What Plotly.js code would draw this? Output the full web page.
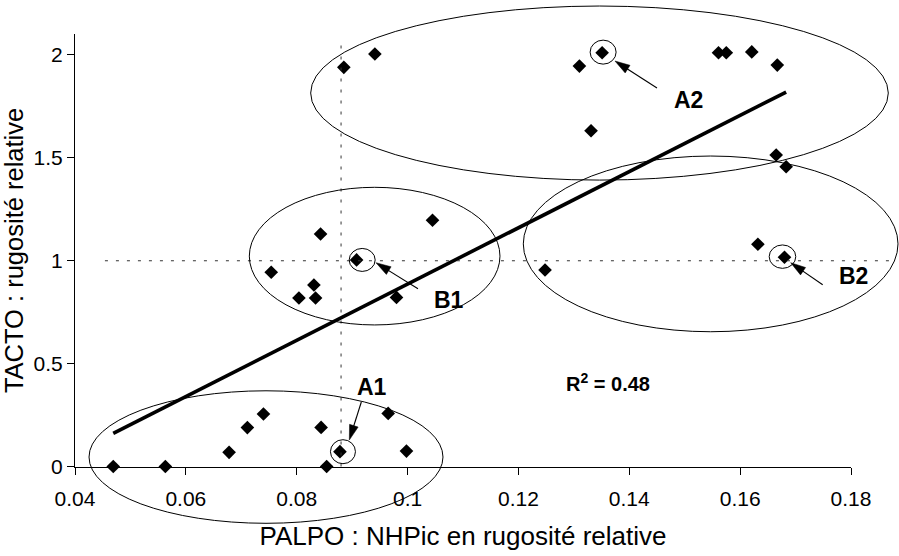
<!DOCTYPE html>
<html><head><meta charset="utf-8">
<script src="https://cdn.plot.ly/plotly-3.0.1.min.js"></script>
<style>html,body{margin:0;padding:0;background:#fff}#chart{width:899px;height:556px}</style>
</head><body><div id="chart"></div>
<script>
// ---- data ----
const palpo = [0.0469, 0.0563, 0.0678, 0.0711, 0.0740, 0.0844, 0.0854, 0.0878, 0.0965, 0.0998,
               0.0843, 0.0754, 0.0831, 0.0804, 0.0834, 0.0908, 0.0980, 0.1045,
               0.0885, 0.0941, 0.1310, 0.1351, 0.1331, 0.1561, 0.1575, 0.1621, 0.1667,
               0.1665, 0.1683, 0.1632, 0.1680, 0.1248];
const tacto = [0, 0, 0.069, 0.189, 0.255, 0.190, 0, 0.072, 0.258, 0.075,
               1.130, 0.944, 0.882, 0.819, 0.819, 1.004, 0.822, 1.197,
               1.940, 2.005, 1.946, 2.011, 1.632, 2.011, 2.011, 2.015, 1.951,
               1.514, 1.457, 1.080, 1.017, 0.955];
const xTickVals = [0.04, 0.06, 0.08, 0.1, 0.12, 0.14, 0.16, 0.18];
const xTickText = ['0.04', '0.06', '0.08', '0.1', '0.12', '0.14', '0.16', '0.18'];
const yTickVals = [0, 0.5, 1, 1.5, 2];
const yTickText = ['0', '0.5', '1', '1.5', '2'];
const groupLabels = ['A1', 'B1', 'A2', 'B2'];
const highlightIndex = [7, 15, 21, 30];     // circled points A1, B1, A2, B2
const refLineX = 0.088;                     // vertical dotted reference
const refLineY = 1;                         // horizontal dotted reference
const r2Label = 'R<sup>2</sup> = 0.48';
const xTitle = 'PALPO : NHPic en rugosité relative';
const yTitle = 'TACTO : rugosité relative';

// ---- linear trend (least squares) ----
const n = palpo.length;
const mx = palpo.reduce((a, b) => a + b, 0) / n;
const my = tacto.reduce((a, b) => a + b, 0) / n;
let sxy = 0, sxx = 0;
for (let i = 0; i < n; i++) { sxy += (palpo[i] - mx) * (tacto[i] - my); sxx += (palpo[i] - mx) ** 2; }
const slope = sxy / sxx, icpt = my - slope * mx;
const trendX = [Math.min(...palpo), Math.max(...palpo)];
const trendY = trendX.map(v => icpt + slope * v);

// ---- axes geometry ----
const xr = [0.04, 0.18], yr = [0, 2.1];                 // visible axes
const xr2 = [0.04, 0.18866], yr2 = [-0.294, 2.2527];   // full drawing area (same scale)
const xd = [(xr[0] - xr2[0]) / (xr2[1] - xr2[0]), (xr[1] - xr2[0]) / (xr2[1] - xr2[0])];
const yd = [(yr[0] - yr2[0]) / (yr2[1] - yr2[0]), (yr[1] - yr2[0]) / (yr2[1] - yr2[0])];

const FONT = 'Liberation Sans, Arial, Helvetica, sans-serif';

// group ellipses [x0, x1, y0, y1]
const groupEllipses = [
  [0.04253, 0.10639, -0.276, 0.368],
  [0.07145, 0.11667, 0.688, 1.357],
  [0.08252, 0.18673, 1.392, 2.238],
  [0.12088, 0.18848, 0.655, 1.509]
];
// highlight circle pixel boxes around circled points [x0,x1,y0,y1]
const circleBoxes = [[-9.5, 15.5, -12, 12], [-7.4, 18.6, -11.5, 11.5], [-12, 14, -11.4, 12.6], [-15.3, 11.3, -11.1, 12.3]];
// arrow heads (data) and tail offsets (screen px, y down)
const arrowHeads = [[0.08949, 0.1288], [0.0943, 0.9905], [0.13742, 1.9708], [0.16912, 0.9905]];
const arrowTails = [[12, -38], [42, 26], [42, 27], [32, 22]];
const labelPos = [[0.09358, 0.3864], [0.10756, 0.8092], [0.15065, 1.7789], [0.1805, 0.9268]];
const HEAD_LEN = 15, HEAD_HALF = 4.5;

const shapes = [];
groupEllipses.forEach(e => shapes.push({type: 'circle', xref: 'x2', yref: 'y2', x0: e[0], x1: e[1], y0: e[2], y1: e[3],
  line: {color: '#000', width: 1}, layer: 'above'}));
highlightIndex.forEach((idx, k) => {
  const b = circleBoxes[k];
  shapes.push({type: 'circle', xref: 'x2', yref: 'y2', xsizemode: 'pixel', ysizemode: 'pixel',
    xanchor: palpo[idx], yanchor: tacto[idx], x0: b[0], x1: b[1], y0: b[2], y1: b[3],
    line: {color: '#000', width: 1}, layer: 'above'});
});
shapes.push({type: 'line', xref: 'x2', yref: 'y2', x0: refLineX, x1: refLineX, y0: 0, y1: 2.075,
  line: {color: '#333', width: 1, dash: '3px,8px'}, layer: 'below'});
shapes.push({type: 'line', xref: 'x2', yref: 'y2', x0: 0.0454, x1: 0.187, y0: refLineY, y1: refLineY,
  line: {color: '#333', width: 1, dash: '3px,8px'}, layer: 'below'});
// arrows: shaft + filled head, in pixels relative to the head point
arrowHeads.forEach((h, k) => {
  const tx = arrowTails[k][0], ty = -arrowTails[k][1];   // y up
  const L = Math.hypot(tx, ty), ux = -tx / L, uy = -ty / L, px = -uy, py = ux;
  const common = {xref: 'x2', yref: 'y2', xsizemode: 'pixel', ysizemode: 'pixel', xanchor: h[0], yanchor: h[1], layer: 'above'};
  shapes.push(Object.assign({type: 'line', x0: tx, y0: ty, x1: -ux * 6, y1: -uy * 6, line: {color: '#000', width: 1.1}}, common));
  const bx = -ux * HEAD_LEN, by = -uy * HEAD_LEN;
  const path = 'M0,0 L' + (bx + px * HEAD_HALF).toFixed(2) + ',' + (by + py * HEAD_HALF).toFixed(2) +
               ' L' + (bx - px * HEAD_HALF).toFixed(2) + ',' + (by - py * HEAD_HALF).toFixed(2) + ' Z';
  shapes.push(Object.assign({type: 'path', path: path, fillcolor: '#000', line: {color: '#000', width: 0.5}}, common));
});

const annotations = [];
groupLabels.forEach((t, k) => {
  annotations.push({xref: 'x2', yref: 'y2', x: labelPos[k][0], y: labelPos[k][1], text: '<b>' + t + '</b>',
    showarrow: false, font: {family: FONT, size: 23, color: '#000'}, xanchor: 'center', yanchor: 'middle'});
});
annotations.push({xref: 'x2', yref: 'y2', x: 0.13621, y: 0.4083, text: '<b>' + r2Label + '</b>', showarrow: false,
  font: {family: FONT, size: 20, color: '#000'}, xanchor: 'center', yanchor: 'middle'});

const traces = [
  {x: palpo, y: tacto, type: 'scatter', mode: 'markers', xaxis: 'x', yaxis: 'y', cliponaxis: false,
   marker: {symbol: 'diamond', size: 10.5, color: '#000'}, showlegend: false, hoverinfo: 'skip'},
  {x: trendX, y: trendY, type: 'scatter', mode: 'lines', xaxis: 'x', yaxis: 'y', cliponaxis: false,
   line: {color: '#000', width: 3.6}, showlegend: false, hoverinfo: 'skip'}
];

const axisCommon = {showline: true, linecolor: '#000', linewidth: 1, ticks: 'outside', ticklen: 7,
  tickcolor: '#000', tickwidth: 1, showgrid: false, zeroline: false, fixedrange: true, automargin: false,
  tickfont: {family: FONT, size: 21, color: '#000'}};
const hiddenAxis = {showline: false, showticklabels: false, ticks: '', showgrid: false, zeroline: false,
  fixedrange: true, automargin: false, domain: [0, 1]};

const layout = {
  width: 899, height: 556,
  margin: {l: 75, r: 0, t: 3, b: 29},
  paper_bgcolor: '#fff', plot_bgcolor: 'rgba(0,0,0,0)',
  font: {family: FONT, color: '#000'},
  showlegend: false,
  xaxis: Object.assign({}, axisCommon, {range: xr, domain: xd, anchor: 'y', tickmode: 'array',
    tickvals: xTickVals, ticktext: xTickText, ticklabelstandoff: 6,
    title: {text: xTitle, font: {family: FONT, size: 26, color: '#000'}, standoff: 18}}),
  yaxis: Object.assign({}, axisCommon, {range: yr, domain: yd, anchor: 'x', tickmode: 'array',
    tickvals: yTickVals, ticktext: yTickText,
    title: {text: yTitle, font: {family: FONT, size: 25.5, color: '#000'}, standoff: 4}}),
  xaxis2: Object.assign({}, hiddenAxis, {range: xr2, anchor: 'y2'}),
  yaxis2: Object.assign({}, hiddenAxis, {range: yr2, anchor: 'x2'}),
  shapes: shapes,
  annotations: annotations
};

Plotly.newPlot('chart', traces, layout, {displayModeBar: false, staticPlot: true});
</script>
</body></html>
